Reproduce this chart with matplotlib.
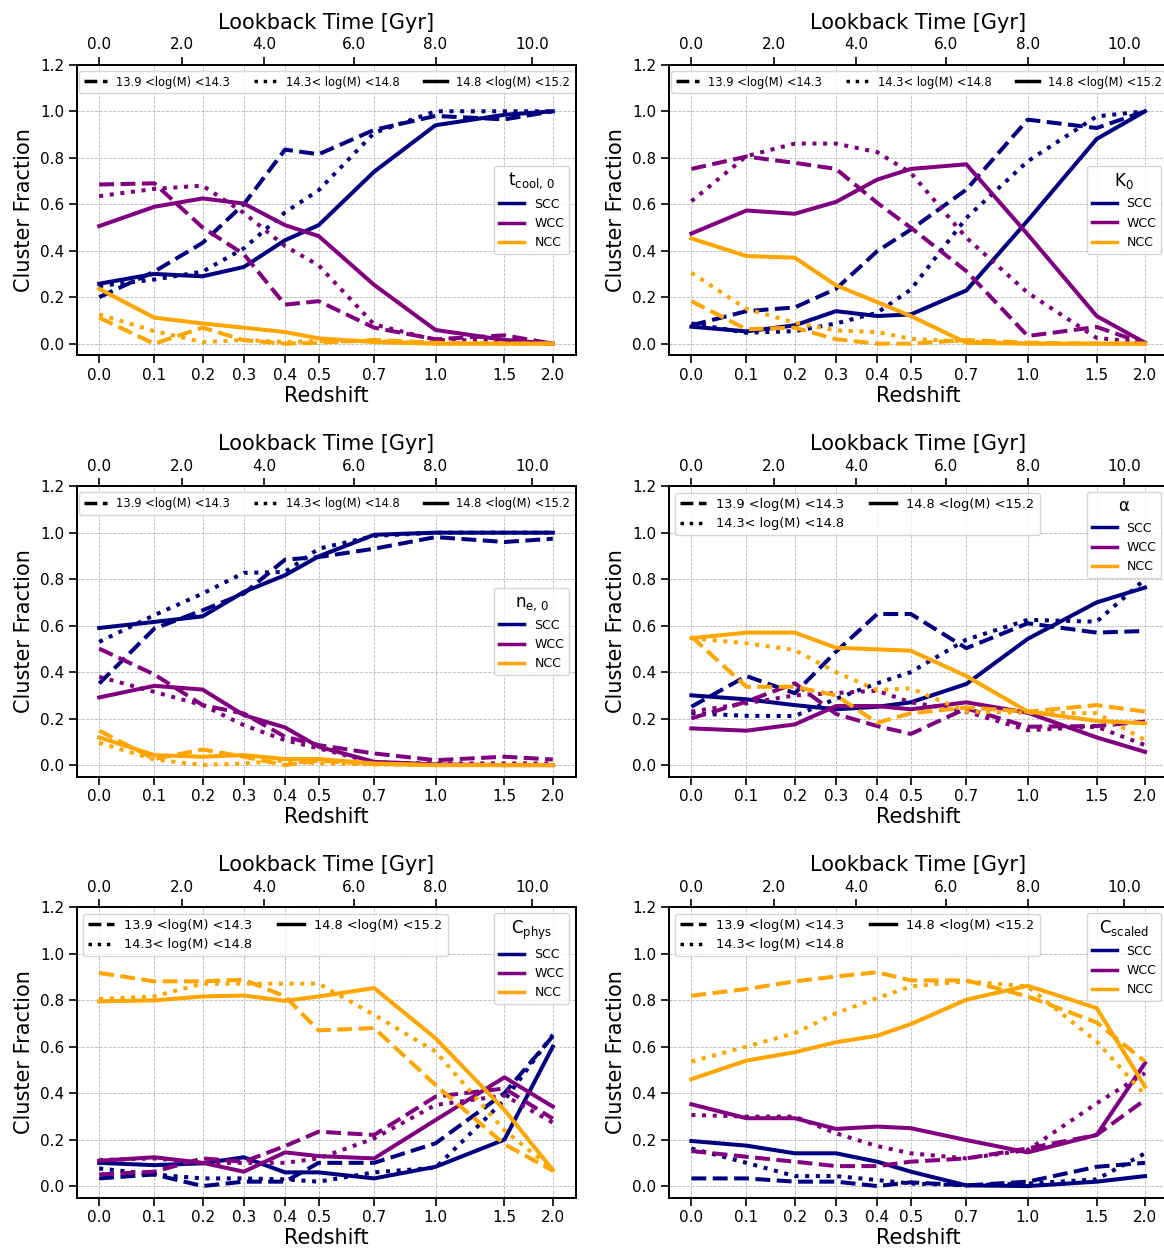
import numpy as np
import matplotlib
matplotlib.use("Agg")
import matplotlib.pyplot as plt
from matplotlib.lines import Line2D

# Snapshot redshifts and their lookback times (Gyr)
redshift_labels = ["0.0", "0.1", "0.2", "0.3", "0.4", "0.5", "0.7", "1.0", "1.5", "2.0"]
lookback = [0.0, 1.31, 2.46, 3.44, 4.42, 5.22, 6.54, 8.0, 9.64, 10.79]
lookback_ticks = [0.0, 1.96, 3.92, 6.05, 8.0, 10.3]
lookback_labels = ["0.0", "2.0", "4.0", "6.0", "8.0", "10.0"]

mass_labels = ["13.9 <log(M) <14.3", "14.3< log(M) <14.8", "14.8 <log(M) <15.2"]
classes = ["SCC", "WCC", "NCC"]

# Each class: [low-mass, mid-mass, high-mass] fractions per snapshot
tcool_scc = [[0.20, 0.31, 0.434, 0.60, 0.835, 0.815, 0.92, 0.98, 0.965, 1.0],
             [0.248, 0.276, 0.31, 0.41, 0.565, 0.66, 0.907, 1.0, 1.0, 1.0],
             [0.258, 0.30, 0.29, 0.33, 0.445, 0.51, 0.74, 0.94, 0.985, 1.0]]
tcool_wcc = [[0.685, 0.69, 0.50, 0.385, 0.168, 0.183, 0.069, 0.019, 0.036, 0.0],
             [0.635, 0.666, 0.68, 0.563, 0.42, 0.337, 0.083, 0.015, 0.015, 0.0],
             [0.506, 0.589, 0.625, 0.603, 0.51, 0.463, 0.253, 0.059, 0.016, 0.0]]
tcool_ncc = [[0.112, 0.0, 0.069, 0.015, 0.0, 0.004, 0.016, 0.004, 0.0, 0.0],
             [0.126, 0.054, 0.007, 0.016, 0.007, 0.011, 0.011, 0.0, 0.0, 0.0],
             [0.236, 0.112, 0.087, 0.069, 0.05, 0.023, 0.007, 0.0, 0.0, 0.0]]

k0_scc = [[0.079, 0.14, 0.156, 0.236, 0.398, 0.491, 0.663, 0.964, 0.928, 1.0],
          [0.087, 0.047, 0.054, 0.087, 0.133, 0.233, 0.541, 0.785, 0.978, 1.0],
          [0.073, 0.053, 0.079, 0.14, 0.119, 0.126, 0.229, 0.53, 0.881, 1.0]]
k0_wcc = [[0.752, 0.805, 0.778, 0.752, 0.606, 0.499, 0.312, 0.033, 0.072, 0.0],
          [0.613, 0.807, 0.861, 0.861, 0.824, 0.735, 0.456, 0.219, 0.025, 0.004],
          [0.474, 0.573, 0.559, 0.61, 0.706, 0.752, 0.772, 0.47, 0.119, 0.004]]
k0_ncc = [[0.183, 0.062, 0.069, 0.019, 0.0, 0.0, 0.016, 0.004, 0.0, 0.0],
          [0.305, 0.15, 0.09, 0.057, 0.05, 0.021, 0.009, 0.0, 0.0, 0.0],
          [0.453, 0.377, 0.37, 0.251, 0.179, 0.119, 0.004, 0.0, 0.0, 0.0]]

ne0_scc = [[0.351, 0.587, 0.666, 0.738, 0.884, 0.895, 0.931, 0.981, 0.96, 0.974],
           [0.53, 0.645, 0.738, 0.827, 0.831, 0.931, 0.986, 1.0, 1.0, 1.0],
           [0.59, 0.616, 0.64, 0.745, 0.817, 0.898, 0.991, 1.0, 1.0, 1.0]]
ne0_wcc = [[0.501, 0.39, 0.258, 0.222, 0.122, 0.086, 0.05, 0.021, 0.036, 0.024],
           [0.38, 0.315, 0.258, 0.172, 0.107, 0.072, 0.011, 0.007, 0.007, 0.007],
           [0.291, 0.341, 0.325, 0.215, 0.162, 0.079, 0.014, 0.003, 0.0, 0.0]]
ne0_ncc = [[0.148, 0.026, 0.067, 0.036, 0.0, 0.019, 0.004, 0.0, 0.0, 0.0],
           [0.096, 0.024, 0.0, 0.007, 0.019, 0.007, 0.003, 0.0, 0.0, 0.0],
           [0.119, 0.043, 0.036, 0.043, 0.026, 0.026, 0.007, 0.0, 0.0, 0.0]]

alpha_scc = [[0.251, 0.383, 0.309, 0.488, 0.65, 0.65, 0.503, 0.61, 0.57, 0.577],
             [0.223, 0.212, 0.211, 0.285, 0.352, 0.40, 0.54, 0.625, 0.617, 0.80],
             [0.30, 0.283, 0.258, 0.24, 0.251, 0.27, 0.349, 0.543, 0.70, 0.764]]
alpha_wcc = [[0.201, 0.273, 0.352, 0.22, 0.168, 0.134, 0.244, 0.165, 0.168, 0.187],
             [0.23, 0.266, 0.30, 0.31, 0.32, 0.27, 0.23, 0.15, 0.165, 0.086],
             [0.158, 0.148, 0.175, 0.254, 0.254, 0.24, 0.27, 0.225, 0.119, 0.057]]
alpha_ncc = [[0.553, 0.337, 0.337, 0.30, 0.182, 0.223, 0.248, 0.23, 0.258, 0.23],
             [0.546, 0.524, 0.495, 0.40, 0.323, 0.33, 0.23, 0.225, 0.223, 0.108],
             [0.546, 0.57, 0.57, 0.505, 0.498, 0.492, 0.383, 0.23, 0.19, 0.18]]

cphys_scc = [[0.033, 0.05, 0.0, 0.019, 0.019, 0.10, 0.10, 0.184, 0.40, 0.645],
             [0.076, 0.05, 0.033, 0.033, 0.029, 0.019, 0.059, 0.079, 0.37, 0.651],
             [0.10, 0.09, 0.098, 0.124, 0.059, 0.059, 0.033, 0.083, 0.20, 0.60]]
cphys_wcc = [[0.05, 0.062, 0.119, 0.105, 0.172, 0.234, 0.22, 0.385, 0.42, 0.29],
             [0.112, 0.119, 0.10, 0.10, 0.10, 0.119, 0.205, 0.349, 0.39, 0.273],
             [0.109, 0.124, 0.10, 0.062, 0.145, 0.129, 0.119, 0.284, 0.468, 0.342]]
cphys_ncc = [[0.917, 0.881, 0.881, 0.888, 0.816, 0.67, 0.68, 0.435, 0.18, 0.066],
             [0.805, 0.816, 0.871, 0.871, 0.871, 0.871, 0.737, 0.579, 0.24, 0.072],
             [0.795, 0.799, 0.816, 0.82, 0.797, 0.816, 0.852, 0.636, 0.328, 0.069]]

cscaled_scc = [[0.033, 0.033, 0.019, 0.019, 0.0, 0.016, 0.003, 0.019, 0.083, 0.10],
               [0.162, 0.10, 0.043, 0.043, 0.026, 0.011, 0.003, 0.011, 0.029, 0.141],
               [0.194, 0.174, 0.141, 0.141, 0.105, 0.062, 0.003, 0.0, 0.019, 0.043]]
cscaled_wcc = [[0.151, 0.126, 0.105, 0.086, 0.086, 0.105, 0.119, 0.162, 0.22, 0.371],
               [0.306, 0.299, 0.299, 0.227, 0.172, 0.141, 0.119, 0.155, 0.356, 0.486],
               [0.352, 0.292, 0.292, 0.246, 0.256, 0.249, 0.198, 0.145, 0.22, 0.529]]
cscaled_ncc = [[0.819, 0.848, 0.881, 0.902, 0.92, 0.885, 0.885, 0.816, 0.704, 0.536],
               [0.536, 0.60, 0.658, 0.744, 0.809, 0.859, 0.881, 0.859, 0.622, 0.392],
               [0.46, 0.54, 0.576, 0.619, 0.647, 0.697, 0.802, 0.862, 0.766, 0.428]]

panel_titles = [r"$\mathrm{t_{cool,\,0}}$", r"$\mathrm{K_0}$", r"$\mathrm{n_{e,\,0}}$",
                "α", r"$\mathrm{C_{phys}}$", r"$\mathrm{C_{scaled}}$"]
panel_data = [(tcool_scc, tcool_wcc, tcool_ncc),
              (k0_scc, k0_wcc, k0_ncc),
              (ne0_scc, ne0_wcc, ne0_ncc),
              (alpha_scc, alpha_wcc, alpha_ncc),
              (cphys_scc, cphys_wcc, cphys_ncc),
              (cscaled_scc, cscaled_wcc, cscaled_ncc)]

class_colors = ["#000080", "#800080", "#FFA500"]
mass_styles = ["--", ":", "-"]

W, H = 1164, 1252
fig = plt.figure(figsize=(W / 100, H / 100), dpi=100)

col_left = [76.5 / W, 668.7 / W]
row_bottom = [(H - 355.3) / H, (H - 776.7) / H, (H - 1197.7) / H]
ax_w = 499.0 / W
ax_h = 290.5 / H

for i, (title, groups) in enumerate(zip(panel_titles, panel_data)):
    row, col = divmod(i, 2)
    ax = fig.add_axes([col_left[col], row_bottom[row], ax_w, ax_h])

    for color, series_set in zip(class_colors, groups):
        for ls, values in zip(mass_styles, series_set):
            ax.plot(lookback, values, color=color, ls=ls, lw=2.9)

    ax.set_ylim(-0.05, 1.2)
    ax.set_yticks(np.round(np.arange(0, 1.21, 0.2), 1))
    ax.set_xticks(lookback)
    ax.set_xticklabels(redshift_labels)
    ax.grid(True, ls="--", lw=0.6, color="0.72")
    ax.tick_params(direction="out", length=5.5, width=1.2, labelsize=11)
    for sp in ax.spines.values():
        sp.set_linewidth(1.3)
    ax.set_xlabel("Redshift", fontsize=15, labelpad=2)
    ax.set_ylabel("Cluster Fraction", fontsize=15)

    top = ax.twiny()
    top.set_xlim(ax.get_xlim())
    top.set_xticks(lookback_ticks)
    top.set_xticklabels(lookback_labels)
    top.tick_params(direction="out", length=5.5, width=1.2, labelsize=11)
    for sp in top.spines.values():
        sp.set_linewidth(1.3)
    top.set_xlabel("Lookback Time [Gyr]", fontsize=15, labelpad=6)

    class_handles = [Line2D([], [], color=c, lw=2.5) for c in class_colors]
    mass_handles = [Line2D([], [], color="black", ls=s, lw=2.5) for s in mass_styles]

    if row == 0 or (row == 1 and col == 0):
        leg_cls = ax.legend(class_handles, classes, loc="center right", fontsize=9,
                            title=title, title_fontsize=12)
        ax.add_artist(leg_cls)
        ax.legend(mass_handles, mass_labels, ncol=3, mode="expand", loc="upper left",
                  bbox_to_anchor=(0.005, 0.979, 0.993, 0.0), borderaxespad=0,
                  fontsize=8.3)
    else:
        leg_cls = ax.legend(class_handles, classes, loc="upper right", fontsize=9,
                            title=title, title_fontsize=12)
        ax.add_artist(leg_cls)
        ax.legend(mass_handles, mass_labels, ncol=2, loc="upper left", fontsize=9.3)

fig.savefig("out.png", dpi=100)
